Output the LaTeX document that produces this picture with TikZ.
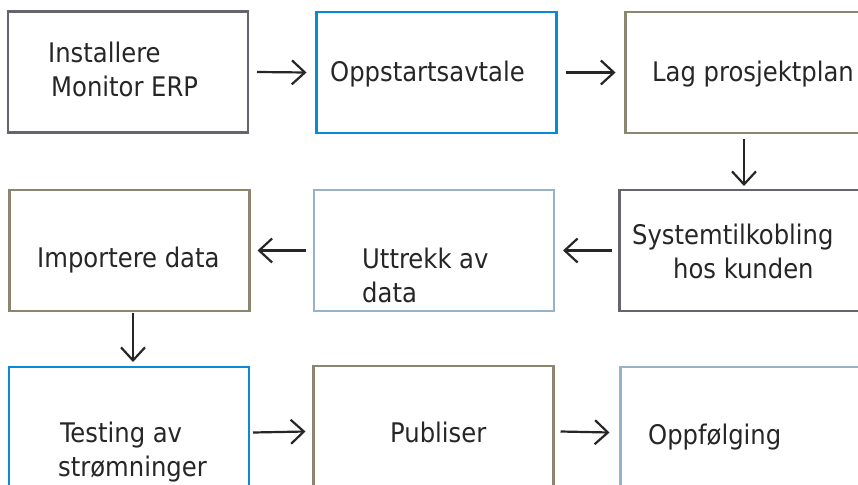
\documentclass[tikz,border=0pt]{standalone}
\usepackage{fontspec}
\setmainfont{DejaVu Sans Condensed}
\usetikzlibrary{arrows.meta}
\definecolor{cgray}{HTML}{64656E}
\definecolor{cblue}{HTML}{0A8AD6}
\definecolor{colive}{HTML}{8A8670}
\definecolor{clight}{HTML}{98B3C8}
\begin{document}
\begin{tikzpicture}[x=1pt,y=-1pt,
  box/.style={draw=#1,line width=2.6pt,minimum width=240pt,minimum height=121pt,inner sep=0pt,outer sep=0pt},
  lbl/.style={anchor=base west,inner sep=0pt,font=\fontsize{27}{34}\selectfont,text=black!85},
  arr/.style={line width=2.2pt,draw=black!85,-{Straight Barb[length=13pt,width=24pt,line width=2.2pt]}}]
\useasboundingbox (0,0) rectangle (858,484);
\clip (0,0) rectangle (858,484);
% boxes
\node[box=cgray]  (b1) at (128,72) {};
\node[box=cblue]  (b2) at (436.5,72.5) {};
\node[box=colive] (b3) at (745.5,72.5) {};
\node[box=cgray]  (b4) at (739.5,250.5) {};
\node[box=clight] (b5) at (434,250.5) {};
\node[box=colive] (b6) at (129.5,250.5) {};
\node[box=cblue]  (b7) at (129,427.5) {};
\node[box=colive] (b8) at (433.5,426.5) {};
\node[box=clight] (b9) at (740.5,427.5) {};
% labels
\node[lbl] (t1a) at (48,63) {Installere};
\node[lbl] (t1b) at (51,97) {Monitor ERP};
\node[lbl] (t2)  at (330,82) {Oppstartsavtale};
\node[lbl] (t3)  at (652,82) {Lag prosjektplan};
\node[lbl] (t4a) at (632,244) {Systemtilkobling};
\node[lbl] (t4b) at (673,278) {hos kunden};
\node[lbl] (t5a) at (362,268) {Uttrekk av};
\node[lbl] (t5b) at (362,302) {data};
\node[lbl] (t6)  at (37,267) {Importere data};
\node[lbl] (t7a) at (60,442) {Testing av};
\node[lbl] (t7b) at (58,476) {strømninger};
\node[lbl] (t8)  at (390,442) {Publiser};
\node[lbl] (t9)  at (648,444) {Oppfølging};
% arrows
\draw[arr] ([xshift=9pt]b1.east) -- ([xshift=-10pt]b2.west);
\draw[arr] ([xshift=9pt]b2.east) -- ([xshift=-10pt]b3.west);
\draw[arr] ([xshift=-1.5pt,yshift=-6pt]b3.south) -- ([xshift=-1.5pt,yshift=4pt]b3.south |- b4.north);
\draw[arr] ([xshift=-8pt]b4.west) -- ([xshift=9pt]b5.east);
\draw[arr] ([xshift=-8pt]b5.west) -- ([xshift=8pt]b6.east);
\draw[arr] ([xshift=3.5pt,yshift=-2pt]b6.south) -- ([xshift=3.5pt,yshift=5pt]b6.south |- b7.north);
\draw[arr] ([xshift=4pt,yshift=-5pt]b7.east) -- ([xshift=-8pt,yshift=-5pt]b8.west);
\draw[arr] ([xshift=7pt,yshift=-5pt]b8.east) -- ([xshift=-11pt,yshift=-5pt]b9.west);
\end{tikzpicture}
\end{document}
